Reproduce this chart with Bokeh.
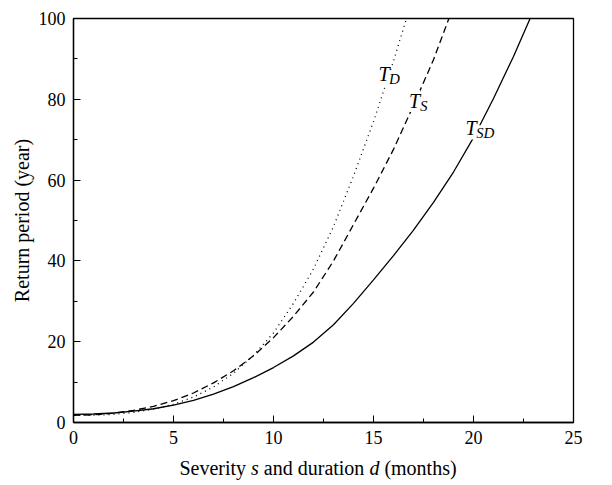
from bokeh.plotting import figure
from bokeh.models import FixedTicker, Label, Div
from bokeh.layouts import column
from bokeh.embed import file_html
from bokeh.resources import INLINE

# ---- data ----
x_sd = [0, 1, 2, 3, 4, 5, 6, 7, 8, 9, 10, 11, 12, 13, 14, 15, 16, 17, 18, 19, 20, 21, 22, 22.83]
t_sd = [2.0, 2.1, 2.35, 2.8, 3.4, 4.3, 5.5, 7.0, 8.9, 11.1, 13.6, 16.5, 19.9, 24.2, 29.5, 35.3, 41.3,
        47.6, 54.5, 62.0, 70.5, 80.2, 90.6, 100.0]

x_s = [0, 1, 2, 3, 4, 5, 6, 7, 8, 9, 10, 11, 12, 13, 14, 15, 16, 17, 18, 18.77]
t_s = [1.8, 1.9, 2.3, 3.0, 4.0, 5.4, 7.3, 9.8, 12.8, 16.5, 21.0, 26.3, 32.3, 40.0, 49.0, 58.0, 67.6,
       78.5, 89.8, 100.0]

x_d = [0, 1, 2, 3, 4, 5, 6, 7, 8, 9, 10, 11, 12, 13, 14, 15, 16, 16.65]
t_d = [1.8, 1.8, 2.0, 2.5, 3.3, 4.5, 6.3, 8.8, 12.2, 16.6, 22.2, 29.5, 38.0, 48.5, 61.0, 74.5, 89.5, 100.0]

x_ticks = [0, 5, 10, 15, 20, 25]
x_minor = [2.5, 7.5, 12.5, 17.5, 22.5]
y_ticks = [0, 20, 40, 60, 80, 100]
y_minor = [10, 30, 50, 70, 90]

x_title_html = "Severity <i>s</i> and duration <i>d</i> (months)"
y_title = "Return period (year)"

curve_labels = [("T", "D"), ("T", "S"), ("T", "SD")]

# ---- layout ----
W = 608
B_LEFT, B_RIGHT, B_TOP, B_BOTTOM = 73, 35, 18, 30
FRAME_H = 404
H = B_TOP + FRAME_H + B_BOTTOM
TITLE_H = 32

FONT = "Liberation Serif"
TICK_SIZE = 18
TITLE_SIZE = 20

p = figure(width=W, height=H, x_range=(0, 25), y_range=(0, 100),
           output_backend="svg", toolbar_location=None,
           min_border_left=B_LEFT, min_border_right=B_RIGHT,
           min_border_top=B_TOP, min_border_bottom=B_BOTTOM)

p.grid.visible = False
p.background_fill_color = "white"
p.border_fill_color = "white"
p.outline_line_color = "black"
p.outline_line_width = 1.3

p.xaxis.ticker = FixedTicker(ticks=x_ticks, minor_ticks=x_minor)
p.yaxis.ticker = FixedTicker(ticks=y_ticks, minor_ticks=y_minor)
for ax in (p.xaxis, p.yaxis):
    ax.axis_line_color = "black"
    ax.axis_line_width = 1.3
    ax.major_tick_in = 7
    ax.major_tick_out = 0
    ax.minor_tick_in = 4
    ax.minor_tick_out = 0
    ax.major_tick_line_color = "black"
    ax.minor_tick_line_color = "black"
    ax.major_tick_line_width = 1
    ax.minor_tick_line_width = 1
    ax.major_label_text_font = FONT
    ax.major_label_text_font_size = f"{TICK_SIZE}px"
    ax.major_label_text_color = "black"
p.xaxis.major_label_standoff = 8
p.yaxis.major_label_standoff = 8

p.yaxis.axis_label = y_title
p.yaxis.axis_label_text_font = FONT
p.yaxis.axis_label_text_font_size = f"{TITLE_SIZE}px"
p.yaxis.axis_label_text_font_style = "normal"
p.yaxis.axis_label_text_color = "black"
p.yaxis.axis_label_standoff = 3

# curves
p.line(x_sd, t_sd, line_color="black", line_width=1.3)
p.line(x_s, t_s, line_color="black", line_width=1.3, line_dash="7 4")
p.line(x_d, t_d, line_color="black", line_width=1.3, line_dash="1 4")

# curve labels (italic T with italic subscript); white box breaks the line behind
label_pos = [(15.25, 86.2), (16.78, 79.6), (19.6, 72.8)]
sub_pos = [(15.78, 85.0), (17.33, 78.3), (20.13, 71.6)]
for (main, sub), (mx, my), (sx, sy) in zip(curve_labels, label_pos, sub_pos):
    p.add_layout(Label(x=sx, y=sy, text=sub, text_font=FONT, text_font_size="15px",
                       text_font_style="italic", text_color="black",
                       background_fill_color="white", text_baseline="alphabetic",
                       text_align="left"))
    p.add_layout(Label(x=mx, y=my, text=main, text_font=FONT, text_font_size="20px",
                       text_font_style="italic", text_color="black",
                       background_fill_color="white", text_baseline="alphabetic",
                       text_align="left"))

# x-axis title as HTML (italic s and d), centred under the plot frame
title = Div(text=x_title_html, width=W, height=TITLE_H, margin=(0, 0, 0, 0),
            styles={"font-family": FONT, "font-size": f"{TITLE_SIZE}px", "color": "black",
                    "text-align": "center", "box-sizing": "border-box",
                    "padding-left": f"{B_LEFT - 10}px", "padding-right": f"{B_RIGHT}px",
                    "width": f"{W}px", "line-height": f"{TITLE_H}px"})

layout = column(p, title, spacing=0)
open("out.html", "w").write(file_html(layout, INLINE))
